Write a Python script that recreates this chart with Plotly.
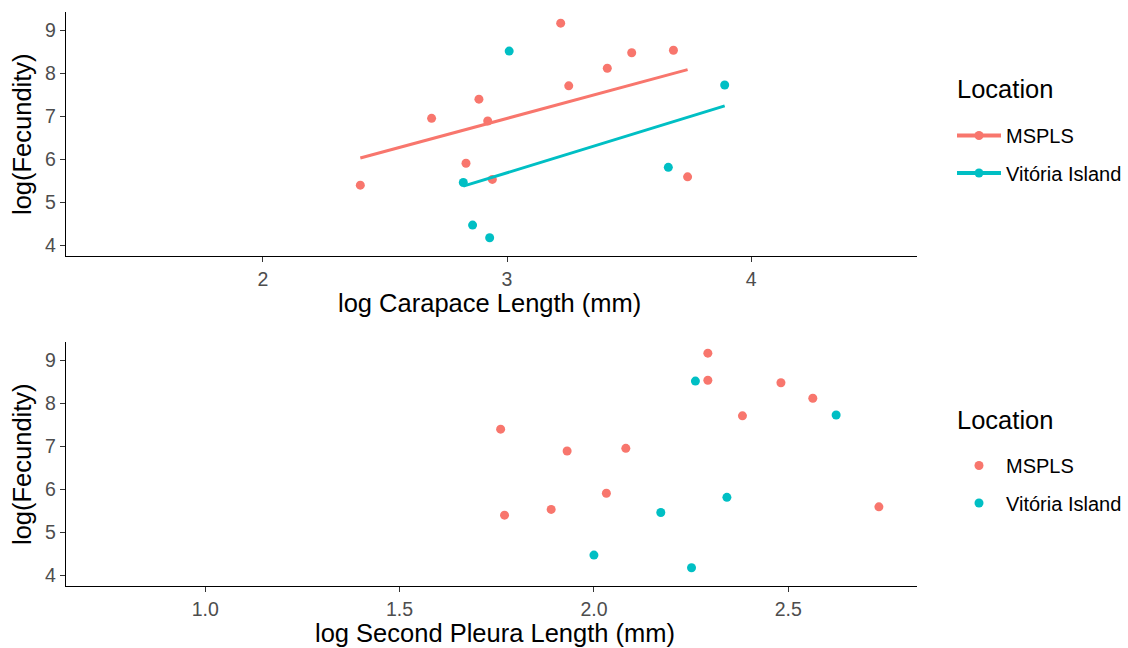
import numpy as np
import plotly.graph_objects as go

W, H = 1128, 648

# ---- data ----
locations = ["MSPLS", "Vitória Island"]
colors = {"MSPLS": "#F8766D", "Vitória Island": "#00BFC4"}

carapace_mspls = [2.399, 2.691, 2.832, 2.885, 2.921, 2.940, 3.220, 3.253, 3.411, 3.511, 3.682, 3.740]
pleura_mspls = [1.770, 2.082, 2.032, 1.760, 1.931, 1.890, 2.293, 2.382, 2.563, 2.481, 2.293, 2.733]
fecundity_mspls = [5.395, 6.953, 5.907, 7.400, 6.890, 5.530, 9.170, 7.710, 8.120, 8.480, 8.540, 5.590]

carapace_vitoria = [2.821, 2.859, 2.929, 3.009, 3.661, 3.892]
pleura_vitoria = [2.172, 2.000, 2.251, 2.261, 2.342, 2.623]
fecundity_vitoria = [5.457, 4.465, 4.170, 8.520, 5.810, 7.730]

top_x_ticks = [2, 3, 4]
bottom_x_ticks = [1.0, 1.5, 2.0, 2.5]
y_ticks = [4, 5, 6, 7, 8, 9]

data = {
    "MSPLS": (carapace_mspls, pleura_mspls, fecundity_mspls),
    "Vitória Island": (carapace_vitoria, pleura_vitoria, fecundity_vitoria),
}

FONT = "Liberation Sans, Arial, sans-serif"
TICK_FONT = dict(family=FONT, size=19.5, color="#4D4D4D")
TITLE_SIZE = 25.5

def px_x(p):
    return p / W

def px_y(p):
    return 1 - p / H

fig = go.Figure()

for loc in locations:
    cx, px_, fy = data[loc]
    col = colors[loc]
    # top: points
    fig.add_trace(go.Scatter(x=cx, y=fy, mode="markers", marker=dict(color=col, size=9),
                             showlegend=False, xaxis="x", yaxis="y"))
    # top: linear fit
    slope, intercept = np.polyfit(cx, fy, 1)
    xs = np.array([min(cx), max(cx)])
    fig.add_trace(go.Scatter(x=xs, y=slope * xs + intercept, mode="lines",
                             line=dict(color=col, width=3), showlegend=False,
                             xaxis="x", yaxis="y"))
    # top legend entry (line + point)
    fig.add_trace(go.Scatter(x=[None], y=[None], mode="lines+markers", name=loc,
                             line=dict(color=col, width=4), marker=dict(color=col, size=9),
                             legend="legend", legendgroup="top_" + loc, xaxis="x", yaxis="y"))
    # bottom: points
    fig.add_trace(go.Scatter(x=px_, y=fy, mode="markers", name=loc,
                             marker=dict(color=col, size=9), legend="legend2",
                             legendgroup="bot_" + loc, xaxis="x2", yaxis="y2"))

axis_common = dict(showgrid=False, zeroline=False, showline=True, linecolor="black",
                   linewidth=1.3, ticks="outside", ticklen=5, tickwidth=1.2,
                   tickcolor="#333333", tickfont=TICK_FONT, automargin=False)

legend_common = dict(xanchor="left", yanchor="top", font=dict(family=FONT, size=20, color="black"),
                     tracegroupgap=8.5, itemwidth=44, bgcolor="rgba(0,0,0,0)")

x_dom = [px_x(66), px_x(917)]
fig.update_layout(
    width=W, height=H,
    margin=dict(l=0, r=0, t=0, b=0),
    paper_bgcolor="white", plot_bgcolor="white",
    font=dict(family=FONT, color="black"),
    xaxis=dict(domain=x_dom, range=[1.193, 4.68], tickvals=top_x_ticks,
               anchor="y", **axis_common),
    yaxis=dict(domain=[px_y(256), px_y(12)], range=[3.745, 9.43], tickvals=y_ticks,
               anchor="x", **axis_common),
    xaxis2=dict(domain=x_dom, range=[0.642, 2.831], tickvals=bottom_x_ticks,
                tickformat=".1f", anchor="y2", **axis_common),
    yaxis2=dict(domain=[px_y(586), px_y(342)], range=[3.745, 9.43], tickvals=y_ticks,
                anchor="x2", **axis_common),
    legend=dict(x=px_x(952), y=px_y(116), **legend_common),
    legend2=dict(x=px_x(952), y=px_y(446), **legend_common),
    showlegend=True,
)

annotations = [
    dict(text="log Carapace Length (mm)", x=px_x(489), y=px_y(303)),
    dict(text="log Second Pleura Length (mm)", x=px_x(495), y=px_y(633)),
    dict(text="log(Fecundity)", x=px_x(22), y=px_y(134), textangle=-90),
    dict(text="log(Fecundity)", x=px_x(22), y=px_y(464), textangle=-90),
    dict(text="Location", x=px_x(955), y=px_y(89), xanchor="left"),
    dict(text="Location", x=px_x(955), y=px_y(420), xanchor="left"),
]
for a in annotations:
    a.setdefault("xanchor", "center")
    fig.add_annotation(xref="paper", yref="paper", showarrow=False, yanchor="middle",
                       font=dict(family=FONT, size=TITLE_SIZE, color="black"), **a)

fig.write_html("out.html", config={"displayModeBar": False},
               post_script="document.body.style.margin='0px';document.body.style.padding='0px';")
